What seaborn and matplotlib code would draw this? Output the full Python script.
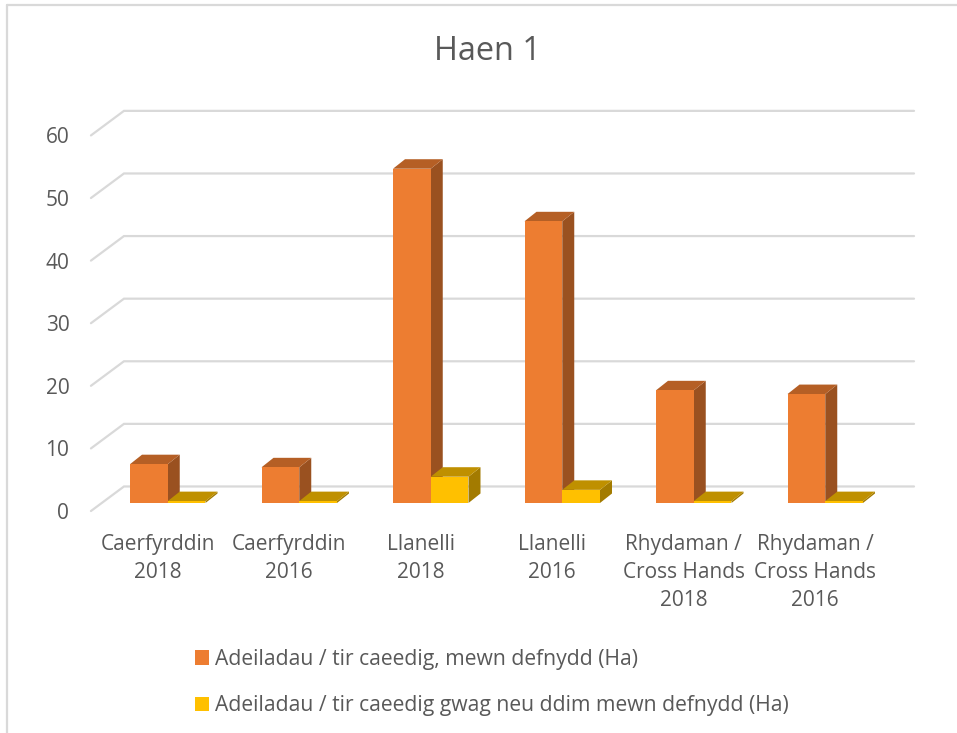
import pandas as pd
import seaborn as sns
import matplotlib.pyplot as plt
from matplotlib.lines import Line2D
from matplotlib.patches import Polygon
from matplotlib.transforms import ScaledTranslation

# data
categories = ["Caerfyrddin\n2018", "Caerfyrddin\n2016", "Llanelli\n2018", "Llanelli\n2016",
              "Rhydaman /\nCross Hands\n2018", "Rhydaman /\nCross Hands\n2016"]
in_use = [6.2, 5.7, 53.4, 45.0, 18.0, 17.4]
vacant = [0.3, 0.3, 4.2, 2.1, 0.3, 0.3]
series_names = ["Adeiladau / tir caeedig, mewn defnydd (Ha)",
                "Adeiladau / tir caeedig gwag neu ddim mewn defnydd (Ha)"]
y_ticks = [0, 10, 20, 30, 40, 50, 60]

# front, top and side colours for the fake 3d look
front_colors = ["#ED7D31", "#FFC000"]
top_colors = ["#B55F25", "#BF9000"]
side_colors = ["#9A5120", "#A37B00"]
text_color = "#595959"
line_color = "#D9D9D9"

W, H = 957, 733
sns.set_theme(style="white")
plt.rcParams["font.family"] = ["Open Sans", "DejaVu Sans"]

df = pd.DataFrame({
    "place": categories * 2,
    "series": [series_names[0]] * 6 + [series_names[1]] * 6,
    "value": in_use + vacant,
})

fig = plt.figure(figsize=(W / 100, H / 100), dpi=100)
ax = fig.add_axes([102 / W, 1 - 503 / H, 789 / W, 375.6 / H])

sns.barplot(data=df, x="place", y="value", hue="series", order=categories, hue_order=series_names,
            palette=front_colors, width=0.574, gap=0, errorbar=None, saturation=1, linewidth=0,
            zorder=3, ax=ax)
ax.set_xlim(-0.5, 5.5)
ax.set_ylim(0, 60)
ax.set_xlabel("")
ax.set_ylabel("")
sns.despine(ax=ax, left=True, bottom=True)

# walls and gridlines, one px = 1/131.5 x unit, 1/6.26 y unit
depth_x = 12 / 131.5
depth_y = 9.5 / 6.26
for v in y_ticks:
    ax.plot([-0.584, -0.333, 5.675], [v - 1.28, v + 2.64, v + 2.64], color=line_color, lw=1.6,
            clip_on=False, zorder=1, solid_joinstyle="miter")

# sides and tops of each bar, taken from the bars seaborn drew
for s, container in enumerate(ax.containers):
    for bar in container:
        x0 = bar.get_x()
        x1 = x0 + bar.get_width()
        h = bar.get_height()
        ax.add_patch(Polygon([(x1, 0), (x1 + depth_x, depth_y), (x1 + depth_x, h + depth_y), (x1, h)],
                             facecolor=side_colors[s], lw=0, zorder=2 + s, clip_on=False))
        ax.add_patch(Polygon([(x0, h), (x0 + depth_x, h + depth_y), (x1 + depth_x, h + depth_y), (x1, h)],
                             facecolor=top_colors[s], lw=0, zorder=2 + s, clip_on=False))
        bar.set_zorder(2.5 + s)
        bar.set_clip_on(False)

ax.set_yticks(y_ticks)
ax.set_xticks(range(len(categories)))
ax.set_xticklabels(categories)
ax.tick_params(axis="both", length=0, colors=text_color, labelsize=15)
ax.tick_params(axis="x", pad=22)
ax.tick_params(axis="y", pad=23.5)
for lab in ax.get_xticklabels():
    lab.set_linespacing(1.45)
    lab.set_transform(lab.get_transform() + ScaledTranslation(-10 / 100, 0, fig.dpi_scale_trans))
for lab in ax.get_yticklabels():
    lab.set_transform(lab.get_transform() + ScaledTranslation(0, -8 / 100, fig.dpi_scale_trans))

fig.text(487.5 / W, 1 - 51 / H, "Haen 1", ha="center", va="center", fontsize=23.4, color=text_color)

handles, labels = ax.get_legend_handles_labels()
ax.legend(handles, labels, loc="upper left", bbox_to_anchor=(195 / W, 1 - 649 / H),
          bbox_transform=fig.transFigure, frameon=False, fontsize=15.2, labelcolor=text_color,
          handlelength=0.66, handleheight=0.66, handletextpad=0.3, labelspacing=1.2,
          borderpad=0, borderaxespad=0)

# chart frame, only left and top show in the crop
fig.add_artist(Line2D([7 / W, 7 / W], [0, 1 - 5 / H], color=line_color, lw=1.6))
fig.add_artist(Line2D([7 / W, 1], [1 - 5 / H, 1 - 5 / H], color=line_color, lw=1.6))

fig.savefig("out.png", dpi=100)
